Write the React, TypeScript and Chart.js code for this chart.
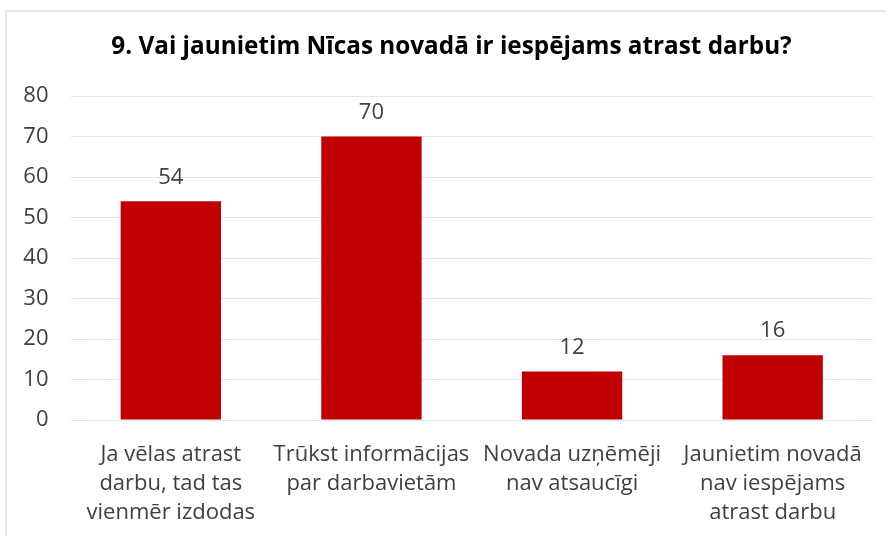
import React, { useEffect, useRef } from "react";
import { Chart, registerables } from "chart.js";

Chart.register(...registerables);

const titleText = "9. Vai jaunietim Nīcas novadā ir iespējams atrast darbu?";
const categories: string[][] = [
  ["Ja vēlas atrast", "darbu, tad tas", "vienmēr izdodas"],
  ["Trūkst informācijas", "par darbavietām"],
  ["Novada uzņēmēji", "nav atsaucīgi"],
  ["Jaunietim novadā", "nav iespējams", "atrast darbu"],
];
const values: number[] = [54, 70, 12, 16];
const yTicks: number[] = [0, 10, 20, 30, 40, 50, 60, 70, 80];

const FONT = "'Open Sans', 'Liberation Sans', sans-serif";

const framePlugin = {
  id: "frame",
  beforeDraw(chart: any) {
    const ctx = chart.ctx;
    ctx.save();
    ctx.fillStyle = "#ffffff";
    ctx.fillRect(0, 0, chart.width, chart.height);
    ctx.strokeStyle = "#e3e6ea";
    ctx.lineWidth = 2;
    ctx.beginPath();
    ctx.moveTo(6, chart.height);
    ctx.lineTo(6, 11);
    ctx.lineTo(chart.width, 11);
    ctx.stroke();
    ctx.font = `bold 24.3px ${FONT}`;
    ctx.fillStyle = "#000000";
    ctx.textAlign = "center";
    ctx.textBaseline = "middle";
    ctx.fillText(titleText, 451.5, 47);
    ctx.restore();
  },
};

const labelPlugin = {
  id: "barLabels",
  afterDatasetsDraw(chart: any) {
    const ctx = chart.ctx;
    const meta = chart.getDatasetMeta(0);
    ctx.save();
    ctx.font = `22px ${FONT}`;
    ctx.fillStyle = "#404040";
    ctx.textAlign = "center";
    ctx.textBaseline = "middle";
    meta.data.forEach((bar: any, i: number) => {
      ctx.fillText(String(values[i]), bar.x, bar.y - 24);
    });
    ctx.restore();
  },
};

export default function App() {
  const ref = useRef<HTMLCanvasElement>(null);
  useEffect(() => {
    document.body.style.margin = "0";
    const chart = new Chart(ref.current!, {
      type: "bar",
      data: {
        labels: categories,
        datasets: [
          {
            data: values,
            backgroundColor: "#c00000",
            borderWidth: 0,
            categoryPercentage: 1,
            barPercentage: 0.5,
          },
        ],
      },
      options: {
        responsive: false,
        animation: false,
        layout: { padding: { top: 96, right: 13, left: 0, bottom: 0 } },
        plugins: {
          legend: { display: false },
          tooltip: { enabled: false },
          title: { display: false },
        },
        scales: {
          x: {
            grid: { display: false, drawTicks: false },
            border: { display: false },
            ticks: {
              color: "#404040",
              font: { family: FONT, size: 22, lineHeight: 1.32 },
              padding: 20.5,
              maxRotation: 0,
              autoSkip: false,
            },
            afterFit(scale: any) {
              scale.height = 116;
            },
          },
          y: {
            min: 0,
            max: 80,
            afterBuildTicks(scale: any) {
              scale.ticks = yTicks.map((v) => ({ value: v }));
            },
            grid: { color: "#e1e5eb", lineWidth: 1, drawTicks: false },
            border: { display: false },
            ticks: {
              color: "#404040",
              font: { family: FONT, size: 22 },
              padding: 22,
            },
            afterFit(scale: any) {
              scale.width = 70.5;
            },
          },
        },
      },
      plugins: [framePlugin, labelPlugin],
    });
    return () => chart.destroy();
  }, []);
  return <canvas ref={ref} width={886} height={536} />;
}
